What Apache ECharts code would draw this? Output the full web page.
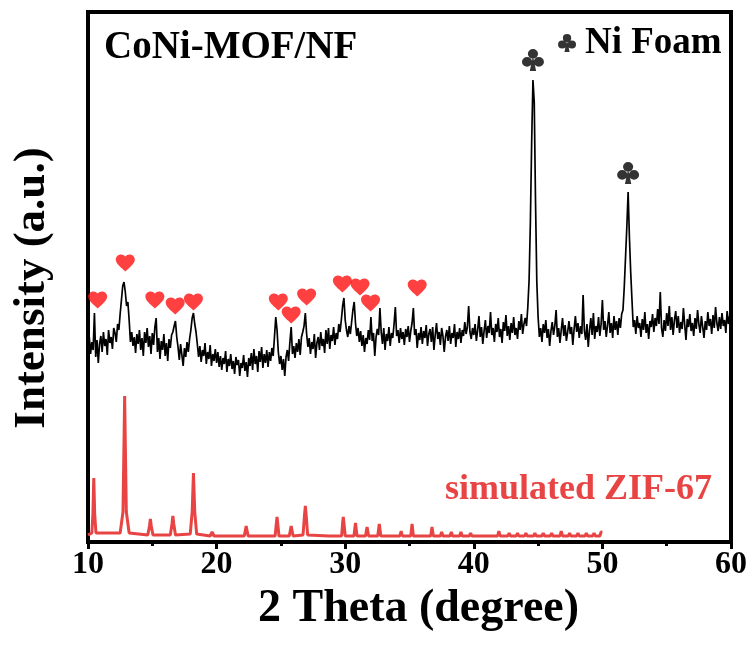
<!DOCTYPE html>
<html>
<head>
<meta charset="utf-8">
<script src="https://cdn.jsdelivr.net/npm/echarts@6/dist/echarts.min.js"></script>
<style>html,body{margin:0;padding:0;background:#fff}#c{width:753px;height:646px}</style>
</head>
<body>
<div id="c"></div>
<script>
// ---- data ----
const xTicks = [10, 20, 30, 40, 50, 60];
const scanStart = 10.0, scanStep = 0.1;
// CoNi-MOF/NF measured pattern, one row per degree (10.0 ... 59.9), then 60.0
const measuredRows = [
 [180,205,188,200,192,229,185,202,179,198],
 [206,190,210,196,203,187,212,199,205,193],
 [214,209,200,218,212,228,242,256,260,250],
 [236,240,222,200,210,196,205,189,208,198],
 [212,192,204,186,210,199,214,195,206,188],
 [209,197,215,224,190,204,183,201,192,208],
 [186,199,181,203,194,207,210,216,221,205],
 [195,182,198,187,176,194,185,200,190,203],
 [212,224,229,218,210,198,185,196,180,192],
 [186,199,178,190,183,197,176,188,181,193],
 [179,190,175,186,172,184,178,191,170,183],
 [176,188,173,181,168,185,177,182,166,179],
 [174,187,171,180,165,184,176,189,172,193],
 [178,186,170,191,180,195,174,188,179,192],
 [175,190,181,194,186,205,225,212,190,178],
 [186,172,183,166,185,192,181,200,215,188],
 [196,184,199,190,203,187,205,210,216,229],
 [208,195,204,188,200,193,208,184,199,205],
 [192,210,196,203,189,212,198,214,193,207],
 [201,215,197,209,203,218,210,222,236,244],
 [222,212,205,216,208,220,232,240,219,206],
 [214,200,211,196,207,190,204,198,212,202],
 [225,201,209,186,205,213,207,234,210,198],
 [214,192,208,201,215,196,209,204,218,235],
 [206,212,199,214,203,210,197,213,205,216],
 [200,211,219,234,207,213,194,209,202,215],
 [198,211,204,217,196,208,213,200,215,192],
 [207,219,203,210,197,214,206,190,205,212],
 [201,216,198,209,204,218,195,210,203,214],
 [199,212,206,220,208,215,236,210,203,214],
 [207,218,201,212,226,205,215,198,211,222],
 [204,216,209,230,207,214,200,218,210,224],
 [205,213,199,220,211,227,206,216,202,219],
 [209,225,207,214,203,221,212,228,208,218],
 [224,216,235,262,320,400,462,440,340,260],
 [225,205,214,200,218,209,222,204,213,196],
 [211,220,207,216,232,205,214,199,212,224],
 [206,217,201,210,221,208,215,197,213,226],
 [210,219,204,216,208,247,211,202,218,195],
 [212,224,207,229,203,216,210,225,206,218],
 [242,212,221,205,217,230,209,219,204,226],
 [212,221,207,224,214,228,232,255,285,315],
 [350,305,270,242,215,222,208,226,214,219],
 [205,223,212,230,209,218,203,221,215,228],
 [210,224,216,233,218,250,214,205,222,211],
 [229,216,236,212,225,207,222,231,214,226],
 [209,220,213,234,217,202,223,215,228,211],
 [219,206,224,213,232,218,209,226,215,204],
 [221,212,230,216,223,208,227,214,235,219],
 [211,225,213,229,216,222,209,231,218,226],
 [220]
];
// simulated ZIF-67 pattern [2theta, intensity]
const simulatedZIF67 = [
 [10.0,7],[10.3,9],[10.38,28],[10.45,64],[10.52,28],[10.62,9],
 [12.5,9],[12.72,30],[12.8,100],[12.85,146],[12.9,100],[12.98,30],[13.2,9],
 [14.65,7],[14.78,16],[14.85,23],[14.92,16],[15.05,7],
 [16.4,7],[16.53,18],[16.6,26],[16.67,18],[16.8,7],
 [17.95,8],[18.1,30],[18.2,69],[18.3,30],[18.45,8],
 [19.5,6],[19.65,10],[19.8,6],
 [22.15,6],[22.3,16],[22.45,6],
 [23.45,6],[23.55,8],[23.65,6],
 [24.55,6],[24.65,19],[24.7,25],[24.75,19],[24.85,6],
 [25.65,6],[25.8,16],[25.95,6],
 [26.72,7],[26.83,26],[26.9,36],[26.97,26],[27.08,7],
 [28.75,6],[28.85,8],[28.95,6],
 [29.72,6],[29.8,19],[29.85,25],[29.9,19],[30.0,6],
 [30.68,6],[30.8,19],[30.92,6],
 [31.58,6],[31.7,15],[31.82,6],
 [32.53,6],[32.65,18],[32.77,6],
 [33.4,6],[33.5,8],[33.6,6],
 [34.25,6],[34.35,11],[34.45,6],
 [35.1,6],[35.2,18],[35.3,6],
 [36.65,6],[36.75,15],[36.85,6],
 [37.4,6],[37.5,10],[37.6,6],
 [38.15,6],[38.25,10],[38.35,6],
 [38.9,6],[39.0,10],[39.1,6],
 [39.65,6],[39.75,9],[39.85,6],
 [41.85,6],[41.95,11],[42.05,6],
 [42.65,6],[42.75,9],[42.85,6],
 [43.3,6],[43.4,9],[43.5,6],
 [43.95,6],[44.05,9],[44.15,6],
 [44.65,6],[44.75,9],[44.85,6],
 [45.3,6],[45.4,9],[45.5,6],
 [45.95,6],[46.05,9],[46.15,6],
 [46.7,6],[46.8,11],[46.9,6],
 [47.35,6],[47.45,9],[47.55,6],
 [48.0,6],[48.1,9],[48.2,6],
 [48.65,6],[48.75,9],[48.85,6],
 [49.25,6],[49.35,9],[49.45,6],
 [49.8,6],[49.9,10],[50.0,10]
];
// ZIF-67 reflections marked with hearts
const heartMarks = [
 [10.75,242],[12.9,279],[15.2,242],[16.78,236],[18.2,240],[24.8,240],
 [25.8,227],[27.0,245],[29.78,258],[31.15,255],[31.97,239],[35.6,254]
];
// Ni foam reflections marked with clubs
const clubMarks = [[44.6,482],[52.0,369]];
const clubLegend = [[47.25,499]];

// ---- build ----
const measured = [];
measuredRows.forEach((row, r) => row.forEach((v, i) => {
  measured.push([+(scanStart + (r * 10 + i) * scanStep).toFixed(1), v]);
}));

const heartPath = 'path://M12,21.35L10.55,20.03C5.4,15.36,2,12.28,2,8.5C2,5.42,4.42,3,7.5,3C9.24,3,10.91,3.81,12,5.09C13.09,3.81,14.76,3,16.5,3C19.58,3,22,5.42,22,8.5C22,12.28,18.6,15.36,13.45,20.04L12,21.35Z';
const clubPath = 'path://M16.5,7A4.5,4.5,0,1,1,7.5,7A4.5,4.5,0,1,1,16.5,7ZM11.3,14.5A4.5,4.5,0,1,1,2.3,14.5A4.5,4.5,0,1,1,11.3,14.5ZM21.7,14.5A4.5,4.5,0,1,1,12.7,14.5A4.5,4.5,0,1,1,21.7,14.5ZM12,9L14.8,23L9.2,23Z';

const FONT = '"Liberation Serif", "Times New Roman", serif';
const chart = echarts.init(document.getElementById('c'), null, {renderer: 'canvas'});
chart.setOption({
  animation: false,
  backgroundColor: '#fff',
  grid: {left: 88, right: 22, top: 12, bottom: 104, show: true,
         borderColor: '#000', borderWidth: 4, backgroundColor: 'transparent'},
  xAxis: {
    type: 'value', min: xTicks[0], max: xTicks[xTicks.length - 1], interval: 10,
    axisLine: {show: true, lineStyle: {color: '#000', width: 4}},
    axisTick: {show: true, inside: false, length: 7, lineStyle: {color: '#000', width: 3}},
    minorTick: {show: true, splitNumber: 2, length: 4, lineStyle: {color: '#000', width: 3}},
    splitLine: {show: false},
    axisLabel: {color: '#000', fontFamily: FONT, fontWeight: 'bold', fontSize: 32, margin: 7},
    name: '2 Theta (degree)', nameLocation: 'middle', nameGap: 40,
    nameTextStyle: {color: '#000', fontFamily: FONT, fontWeight: 'bold', fontSize: 46,
                    padding: [0, 0, 0, 18]}
  },
  yAxis: {
    type: 'value', min: 0, max: 530,
    axisLine: {show: false}, axisTick: {show: false}, axisLabel: {show: false},
    splitLine: {show: false},
    name: 'Intensity (a.u.)', nameLocation: 'middle', nameGap: 33, nameRotate: 90,
    nameTextStyle: {color: '#000', fontFamily: FONT, fontWeight: 'bold', fontSize: 45,
                    padding: [0, 22, 0, 0]}
  },
  series: [
    {type: 'line', data: measured, showSymbol: false, symbol: 'none',
     lineStyle: {color: '#000', width: 1.7}, z: 3},
    {type: 'line', data: simulatedZIF67, showSymbol: false, symbol: 'none',
     lineStyle: {color: '#e84444', width: 3}, z: 2},
    {type: 'scatter', data: heartMarks, symbol: heartPath, symbolSize: [19, 17],
     itemStyle: {color: '#ff1010'}, z: 4},
    {type: 'scatter', data: clubMarks, symbol: clubPath, symbolSize: [22, 22],
     itemStyle: {color: '#000'}, z: 4},
    {type: 'scatter', data: clubLegend, symbol: clubPath, symbolSize: [18, 18],
     itemStyle: {color: '#000'}, z: 4}
  ],
  graphic: [
    {type: 'text', left: 104, top: 28, style: {text: 'CoNi-MOF/NF', fill: '#000',
      font: 'bold 39px ' + FONT}},
    {type: 'text', left: 585, top: 25, style: {text: 'Ni Foam', fill: '#000',
      font: 'bold 37px ' + FONT}},
    {type: 'text', left: 445, top: 472, style: {text: 'simulated ZIF-67', fill: '#e84444',
      font: 'bold 36px ' + FONT}}
  ]
});
</script>
</body>
</html>
